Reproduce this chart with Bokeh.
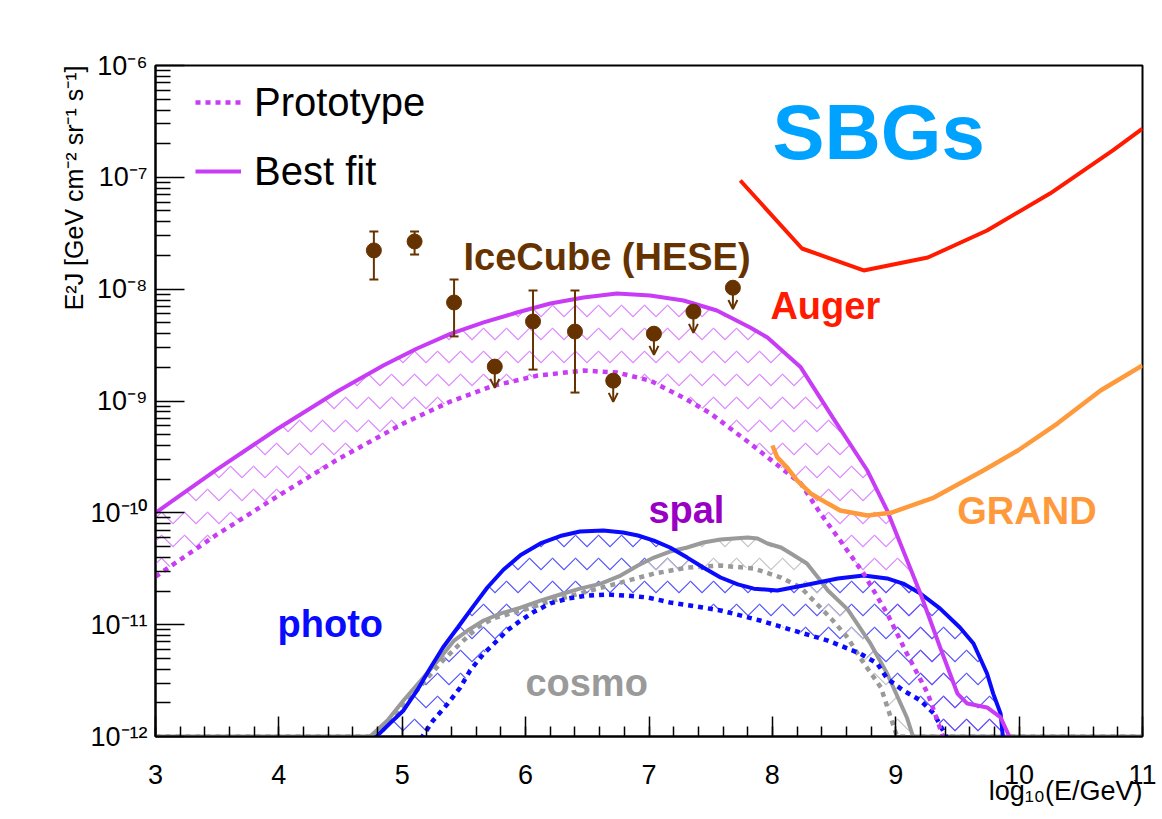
import math
from bokeh.plotting import figure
from bokeh.models import (ColumnDataSource, Range1d, FixedTicker, CustomJSTickFormatter,
                          Label, Legend, LegendItem, Arrow, OpenHead, Title)
from bokeh.embed import file_html
from bokeh.resources import INLINE

# ---------------- data (x = log10(E/GeV), y = E^2 J [GeV cm^-2 sr^-1 s^-1]) ----------------
best_x = [3.00, 3.49, 3.99, 4.48, 4.85, 5.12, 5.39, 5.66, 5.93, 6.20, 6.47, 6.74, 7.01, 7.28,
          7.55, 7.82, 7.96, 8.23, 8.49, 8.77, 8.93, 9.06, 9.20, 9.36, 9.50, 9.58, 9.74, 9.85,
          9.93]
best_y = [1.0e-10, 2.41e-10, 5.65e-10, 1.23e-9, 2.09e-9, 2.95e-9, 3.98e-9, 5.04e-9, 6.18e-9,
          7.45e-9, 8.41e-9, 9.14e-9, 8.77e-9, 7.92e-9, 6.44e-9, 4.54e-9, 3.70e-9, 2.00e-9,
          7.11e-10, 2.39e-10, 1.05e-10, 4.60e-11, 1.90e-11, 6.25e-12, 2.42e-12, 1.97e-12,
          1.82e-12, 1.48e-12, 9.5e-13]

proto_x = [3.00, 3.49, 3.99, 4.48, 5.01, 5.39, 5.74, 6.10, 6.47, 6.74, 7.01, 7.28, 7.50, 7.82,
           8.23, 8.39, 8.55, 8.74, 8.93, 9.09, 9.26, 9.39]
proto_y = [2.69e-11, 6.31e-11, 1.41e-10, 3.02e-10, 6.31e-10, 9.89e-10, 1.37e-9, 1.69e-9,
           1.87e-9, 1.80e-9, 1.52e-9, 1.07e-9, 7.73e-10, 4.17e-10, 1.83e-10, 9.86e-11, 5.65e-11,
           2.86e-11, 1.26e-11, 5.52e-12, 2.42e-12, 9.5e-13]

photo_best_x = [4.77, 4.90, 5.01, 5.12, 5.23, 5.33, 5.45, 5.58, 5.69, 5.82, 5.96, 6.12, 6.28,
                6.44, 6.63, 6.79, 6.91, 7.04, 7.17, 7.31, 7.44, 7.58, 7.72, 7.85, 8.04, 8.25,
                8.53, 8.74, 8.93, 9.06, 9.20, 9.36, 9.52, 9.63, 9.74, 9.79, 9.85, 9.87]
photo_best_y = [9.5e-13, 1.31e-12, 1.71e-12, 2.58e-12, 4.14e-12, 6.25e-12, 9.43e-12, 1.48e-11,
                2.15e-11, 3.10e-11, 4.20e-11, 5.32e-11, 6.20e-11, 6.81e-11, 6.95e-11, 6.67e-11,
                6.27e-11, 5.65e-11, 4.90e-11, 3.98e-11, 3.24e-11, 2.64e-11, 2.29e-11, 2.10e-11,
                2.02e-11, 2.24e-11, 2.59e-11, 2.75e-11, 2.59e-11, 2.33e-11, 1.90e-11, 1.39e-11,
                9.43e-12, 6.78e-12, 3.66e-12, 2.42e-12, 1.60e-12, 9.5e-13]

photo_proto_x = [5.15, 5.25, 5.37, 5.47, 5.55, 5.66, 5.77, 5.85, 5.96, 6.06, 6.20, 6.34, 6.50,
                 6.66, 6.83, 6.99, 7.17, 7.39, 7.58, 7.74, 7.90, 8.17, 8.45, 8.71, 8.85, 8.93,
                 9.06, 9.20, 9.31, 9.42]
photo_proto_y = [9.5e-13, 1.39e-12, 1.97e-12, 2.74e-12, 3.89e-12, 5.52e-12, 7.21e-12, 8.87e-12,
                 1.09e-11, 1.29e-11, 1.55e-11, 1.71e-11, 1.82e-11, 1.86e-11, 1.82e-11, 1.75e-11,
                 1.58e-11, 1.45e-11, 1.34e-11, 1.21e-11, 1.09e-11, 8.87e-12, 7.21e-12, 5.52e-12,
                 4.50e-12, 3.30e-12, 2.58e-12, 2.10e-12, 1.60e-12, 9.5e-13]

cosmo_best_x = [3.00, 4.74, 4.88, 5.01, 5.15, 5.29, 5.42, 5.53, 5.66, 5.80, 5.96, 6.12, 6.28,
                6.44, 6.61, 6.77, 6.91, 7.04, 7.17, 7.31, 7.44, 7.58, 7.80, 7.88, 7.96, 8.07,
                8.15, 8.28, 8.37, 8.45, 8.61, 8.79, 8.93, 9.09, 9.14, 11.0]
cosmo_best_y = [1.0e-12, 1.0e-12, 1.39e-12, 2.10e-12, 3.17e-12, 4.78e-12, 7.21e-12, 8.87e-12,
                1.09e-11, 1.26e-11, 1.42e-11, 1.64e-11, 1.86e-11, 2.10e-11, 2.33e-11, 2.75e-11,
                3.38e-11, 3.98e-11, 4.51e-11, 4.90e-11, 5.43e-11, 5.77e-11, 6.01e-11, 5.89e-11,
                5.32e-11, 4.90e-11, 4.33e-11, 3.52e-11, 2.64e-11, 2.02e-11, 1.37e-11, 6.92e-12,
                3.66e-12, 1.48e-12, 1.0e-12, 1.0e-12]

cosmo_proto_x = [3.00, 4.80, 4.93, 5.07, 5.20, 5.33, 5.47, 5.61, 5.74, 5.88, 6.02, 6.14, 6.47,
                 6.77, 7.04, 7.31, 7.58, 7.85, 8.07, 8.23, 8.39, 8.49, 8.61, 8.71, 8.88, 9.01,
                 11.0]
cosmo_proto_y = [1.0e-12, 1.0e-12, 1.48e-12, 2.23e-12, 3.30e-12, 4.78e-12, 6.78e-12, 9.43e-12,
                 1.14e-11, 1.26e-11, 1.39e-11, 1.55e-11, 1.94e-11, 2.38e-11, 2.86e-11, 3.24e-11,
                 3.38e-11, 3.18e-11, 2.64e-11, 2.15e-11, 1.42e-11, 1.09e-11, 7.67e-12, 5.08e-12,
                 2.74e-12, 1.0e-12, 1.0e-12]

auger_x = [7.74, 8.24, 8.74, 9.26, 9.74, 10.25, 10.76, 11.0]
auger_y = [9.37e-8, 2.31e-8, 1.47e-8, 1.92e-8, 3.35e-8, 7.16e-8, 1.74e-7, 2.73e-7]

grand_x = [8.00, 8.04, 8.12, 8.20, 8.31, 8.45, 8.55, 8.77, 8.96, 9.31, 9.71, 9.99, 10.31,
           10.66, 11.0]
grand_y = [4.00e-10, 3.13e-10, 2.54e-10, 1.95e-10, 1.49e-10, 1.21e-10, 1.05e-10, 9.46e-11,
           1.00e-10, 1.37e-10, 2.39e-10, 3.61e-10, 6.29e-10, 1.24e-9, 2.08e-9]

# IceCube HESE points
hese_x = [4.77, 5.10, 5.42, 6.06, 6.40]
hese_y = [2.22e-8, 2.67e-8, 7.6e-9, 5.14e-9, 4.18e-9]
hese_lo = [1.22e-8, 2.04e-8, 3.78e-9, 1.91e-9, 1.19e-9]
hese_hi = [3.28e-8, 3.28e-8, 1.22e-8, 9.73e-9, 9.73e-9]
hese_ul_x = [5.75, 6.71, 7.04, 7.36, 7.68]
hese_ul_y = [2.03e-9, 1.52e-9, 4.0e-9, 6.3e-9, 1.03e-8]

y_ticks = [1e-12, 1e-11, 1e-10, 1e-9, 1e-8, 1e-7, 1e-6]
x_ticks = [3, 4, 5, 6, 7, 8, 9, 10, 11]

# ---------------- styles ----------------
MAG = "#c83cf5"
MAG_H = "#dc84ff"
BLUE = "#0a0aff"
BLUE_H = "#5050ff"
GRAY = "#9a9a9a"
GRAY_H = "#c4c4c4"
BROWN = "#663300"
FONT = "Liberation Sans"

p = figure(width=1162, height=819, x_range=Range1d(3, 11), y_range=Range1d(1e-12, 1e-6),
           y_axis_type="log", output_backend="svg", toolbar_location=None, title=None,
           min_border_left=155, min_border_right=20, min_border_top=65, min_border_bottom=83)
p.xgrid.visible = False
p.ygrid.visible = False
p.outline_line_color = "black"
p.outline_line_width = 2
p.background_fill_color = "white"
p.border_fill_color = "white"

# hatched bands (polygon between best fit and prototype)
def band(xa, ya, xb, yb, color):
    p.patch(xa + xb[::-1], ya + yb[::-1], fill_alpha=0, line_alpha=0,
            hatch_pattern="horizontal_wave", hatch_color=color, hatch_scale=23,
            hatch_weight=1.1, hatch_alpha=1)

band(best_x, best_y, proto_x, proto_y, MAG_H)
band(photo_best_x, photo_best_y, photo_proto_x, photo_proto_y, BLUE_H)
band(cosmo_best_x[1:-1], cosmo_best_y[1:-1], cosmo_proto_x[1:-1], cosmo_proto_y[1:-1], GRAY_H)

# curves
p.line(cosmo_proto_x, cosmo_proto_y, line_color=GRAY, line_width=4.5, line_dash="5 5")
p.line(cosmo_best_x, cosmo_best_y, line_color=GRAY, line_width=4)
p.line(photo_proto_x, photo_proto_y, line_color=BLUE, line_width=4.5, line_dash="5 5")
p.line(photo_best_x, photo_best_y, line_color=BLUE, line_width=4)
r_proto = p.line(proto_x, proto_y, line_color=MAG, line_width=4.5, line_dash="5 5")
r_best = p.line(best_x, best_y, line_color=MAG, line_width=4)
p.line(auger_x, auger_y, line_color="#ff1a00", line_width=4)
p.line(grand_x, grand_y, line_color="#ff9a3c", line_width=4.5)

# IceCube HESE
p.segment(hese_x, hese_lo, hese_x, hese_hi, line_color=BROWN, line_width=2)
p.scatter(hese_x + hese_x, hese_lo + hese_hi, marker="dash", size=9, line_color=BROWN,
          line_width=2)
ul_end = [v * 10 ** (-0.19) for v in hese_ul_y]
src_ul = ColumnDataSource(dict(x=hese_ul_x, y=hese_ul_y, ye=ul_end))
p.add_layout(Arrow(end=OpenHead(size=9, line_color=BROWN, line_width=2), x_start="x",
                   y_start="y", x_end="x", y_end="ye", source=src_ul, line_color=BROWN,
                   line_width=2))
p.scatter(hese_x, hese_y, size=15, fill_color=BROWN, line_color=BROWN)
p.scatter(hese_ul_x, hese_ul_y, size=15, fill_color=BROWN, line_color=BROWN)

# axes
xa = p.xaxis[0]
xa.ticker = FixedTicker(ticks=x_ticks, minor_ticks=[3 + 0.2 * i for i in range(41)])
xa.major_tick_in = 20
xa.major_tick_out = 0
xa.minor_tick_in = 10
xa.minor_tick_out = 0
xa.axis_line_width = 2
xa.major_tick_line_width = 1.5
xa.minor_tick_line_width = 1.5
xa.major_label_standoff = 28
xa.major_label_text_font = FONT
xa.major_label_text_font_size = "27px"
xa.major_label_text_color = "black"

ya = p.yaxis[0]
ya.ticker = FixedTicker(ticks=y_ticks,
                        minor_ticks=[m * 10 ** e for e in range(-12, -6) for m in range(2, 10)])
ya.formatter = CustomJSTickFormatter(code="""
const sup = {'-':'\u207b','0':'\u2070','1':'\u00b9','2':'\u00b2','3':'\u00b3','4':'\u2074',
             '5':'\u2075','6':'\u2076','7':'\u2077','8':'\u2078','9':'\u2079'};
const e = Math.round(Math.log10(tick));
return '10' + String(e).split('').map(c => sup[c]).join('');
""")
ya.major_tick_in = 29
ya.major_tick_out = 0
ya.minor_tick_in = 15
ya.minor_tick_out = 0
ya.axis_line_width = 2
ya.major_tick_line_width = 1.5
ya.minor_tick_line_width = 1.5
ya.major_label_standoff = 8
ya.major_label_text_font = FONT
ya.major_label_text_font_size = "27px"
ya.major_label_text_color = "black"

# axis titles (ROOT style: aligned to the axis end)
Y_TITLE = "E\u00b2J [GeV cm\u207b\u00b2 sr\u207b\u00b9 s\u207b\u00b9]"
X_TITLE = "log\u2081\u2080(E/GeV)"
p.add_layout(Title(text=Y_TITLE, align="right", text_font=FONT, text_font_size="25px",
                   text_font_style="normal", text_color="black", standoff=0), "left")
p.add_layout(Title(text=X_TITLE, align="right", text_font=FONT, text_font_size="27px",
                   text_font_style="normal", text_color="black", standoff=-26), "below")

# text labels
def lab(x, y, t, c, size="38px"):
    p.add_layout(Label(x=x, y=y, text=t, text_color=c, text_font=FONT, text_font_size=size,
                       text_font_style="bold", text_align="left", text_baseline="alphabetic"))

lab(5.496, 1.92e-8, "IceCube (HESE)", BROWN)
lab(7.984, 7.0e-9, "Auger", "#ff1a00")
lab(9.499, 1.03e-10, "GRAND", "#ff9a3c")
lab(6.995, 1.07e-10, "spal", "#9900c4")
lab(3.989, 1.02e-11, "photo", BLUE)
lab(5.998, 2.98e-12, "cosmo", GRAY)
lab(8.0, 2.52e-7, "SBGs", "#00a2ff", size="78px")

# legend
leg = Legend(items=[LegendItem(label="Prototype", renderers=[r_proto]),
                    LegendItem(label="Best fit", renderers=[r_best])],
             location=(40, 542), glyph_width=46, glyph_height=46, label_height=46,
             spacing=23, padding=0, margin=0, label_standoff=13,
             label_text_font=FONT, label_text_font_size="40px", label_text_baseline="middle",
             label_text_color="black", border_line_alpha=0, background_fill_alpha=0)
p.add_layout(leg)

open("out.html", "w").write(file_html(p, INLINE))
